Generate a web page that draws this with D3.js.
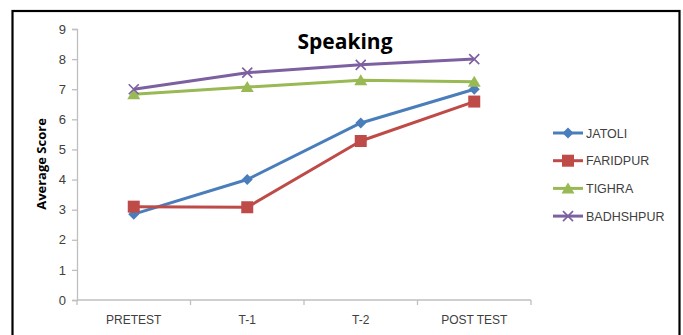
<!DOCTYPE html>
<html>
<head>
<meta charset="utf-8">
<script src="https://cdn.jsdelivr.net/npm/d3@7"></script>
<style>
  html, body { margin: 0; padding: 0; background: #fff; }
  svg { display: block; }
</style>
</head>
<body>
<svg id="chart" width="683" height="335"></svg>
<script>
// Test stages along the x axis
const categories = ["PRETEST", "T-1", "T-2", "POST TEST"];

// Average speaking scores per village
const jatoli    = [2.85, 4.0, 5.88, 7.0];
const faridpur  = [3.1, 3.08, 5.28, 6.59];
const tighra    = [6.83, 7.07, 7.3, 7.25];
const badhshpur = [7.0, 7.55, 7.81, 8.0];

const seriesNames = ["JATOLI", "FARIDPUR", "TIGHRA", "BADHSHPUR"];
const yTicks = [0, 1, 2, 3, 4, 5, 6, 7, 8, 9];

const series = [
  { name: seriesNames[0], values: jatoli,    color: "#4a7ebb", marker: "diamond" },
  { name: seriesNames[1], values: faridpur,  color: "#be4b48", marker: "square" },
  { name: seriesNames[2], values: tighra,    color: "#98b954", marker: "triangle" },
  { name: seriesNames[3], values: badhshpur, color: "#7d60a0", marker: "cross" }
];

const svg = d3.select("#chart");
const font = "'Liberation Sans', Arial, sans-serif";

// Outer frame
svg.append("rect")
  .attr("x", 12.5).attr("y", 11).attr("width", 667).attr("height", 340)
  .attr("fill", "#fff").attr("stroke", "#000").attr("stroke-width", 2.2);

const plot = { left: 77, right: 531, top: 29, bottom: 300 };

const x = d3.scaleBand().domain(categories).range([plot.left, plot.right]);
const y = d3.scaleLinear().domain([0, 9]).range([plot.bottom, plot.top]);

// Y axis
const yAxis = svg.append("g")
  .attr("transform", `translate(${plot.left},0)`)
  .call(d3.axisLeft(y).tickValues(yTicks).tickSize(5).tickPadding(6).tickFormat(d3.format("d")));
yAxis.select(".domain").attr("stroke", "#bfbfbf").attr("stroke-width", 1.3);
yAxis.selectAll(".tick line").attr("stroke", "#bfbfbf").attr("stroke-width", 1.3);
yAxis.selectAll(".tick text").attr("fill", "#404040")
  .style("font-family", font).style("font-size", "13px");

// X axis: ticks sit on category boundaries
const xAxis = svg.append("g")
  .attr("transform", `translate(0,${plot.bottom})`);
xAxis.append("line")
  .attr("x1", plot.left).attr("x2", plot.right)
  .attr("y1", 0).attr("y2", 0)
  .attr("stroke", "#bfbfbf").attr("stroke-width", 1.3);
const bounds = categories.map(c => x(c)).concat([x(categories[categories.length - 1]) + x.bandwidth()]);
xAxis.selectAll("line.tk").data(bounds).enter().append("line")
  .attr("class", "tk")
  .attr("x1", d => d).attr("x2", d => d)
  .attr("y1", 0).attr("y2", 5)
  .attr("stroke", "#bfbfbf").attr("stroke-width", 1.3);
xAxis.selectAll("text").data(categories).enter().append("text")
  .attr("x", d => x(d) + x.bandwidth() / 2)
  .attr("y", 24)
  .attr("text-anchor", "middle")
  .attr("fill", "#404040")
  .style("font-family", font).style("font-size", "12px")
  .text(d => d);

// Title
svg.append("text")
  .attr("x", 345).attr("y", 49)
  .attr("text-anchor", "middle")
  .style("font-family", "'Open Sans', sans-serif").style("font-weight", "bold").style("font-size", "21px")
  .attr("fill", "#000")
  .text("Speaking");

// Y axis title
svg.append("text")
  .attr("transform", "translate(46,164) rotate(-90)")
  .attr("text-anchor", "middle")
  .style("font-family", "'Open Sans', sans-serif").style("font-weight", "bold").style("font-size", "13px")
  .attr("fill", "#000")
  .text("Average Score");

function drawMarker(g, type, color) {
  if (type === "diamond") {
    g.append("path").attr("d", "M0,-5.5L5.5,0L0,5.5L-5.5,0Z").attr("fill", color);
  } else if (type === "square") {
    g.append("rect").attr("x", -6).attr("y", -6).attr("width", 12).attr("height", 12).attr("fill", color);
  } else if (type === "triangle") {
    g.append("path").attr("d", "M0,-6L6.5,5L-6.5,5Z").attr("fill", color);
  } else if (type === "cross") {
    g.append("path").attr("d", "M-5,-5L5,5M-5,5L5,-5")
      .attr("stroke", color).attr("stroke-width", 1.6).attr("fill", "none");
  }
}

const line = d3.line()
  .x((d, i) => x(categories[i]) + x.bandwidth() / 2)
  .y(d => y(d));

series.forEach(s => {
  svg.append("path")
    .datum(s.values)
    .attr("d", line)
    .attr("fill", "none")
    .attr("stroke", s.color)
    .attr("stroke-width", 3)
    .attr("stroke-linejoin", "round");
  s.values.forEach((v, i) => {
    const g = svg.append("g")
      .attr("transform", `translate(${x(categories[i]) + x.bandwidth() / 2},${y(v)})`);
    drawMarker(g, s.marker, s.color);
  });
});

// Legend
const legend = svg.append("g");
series.forEach((s, i) => {
  const ly = 133 + i * 27.7;
  legend.append("line")
    .attr("x1", 553).attr("x2", 583)
    .attr("y1", ly).attr("y2", ly)
    .attr("stroke", s.color).attr("stroke-width", 3);
  const g = legend.append("g").attr("transform", `translate(568,${ly})`);
  drawMarker(g, s.marker, s.color);
  legend.append("text")
    .attr("x", 586).attr("y", ly + 4.5)
    .attr("fill", "#404040")
    .style("font-family", font).style("font-size", "12.5px")
    .text(s.name);
});
</script>
</body>
</html>
